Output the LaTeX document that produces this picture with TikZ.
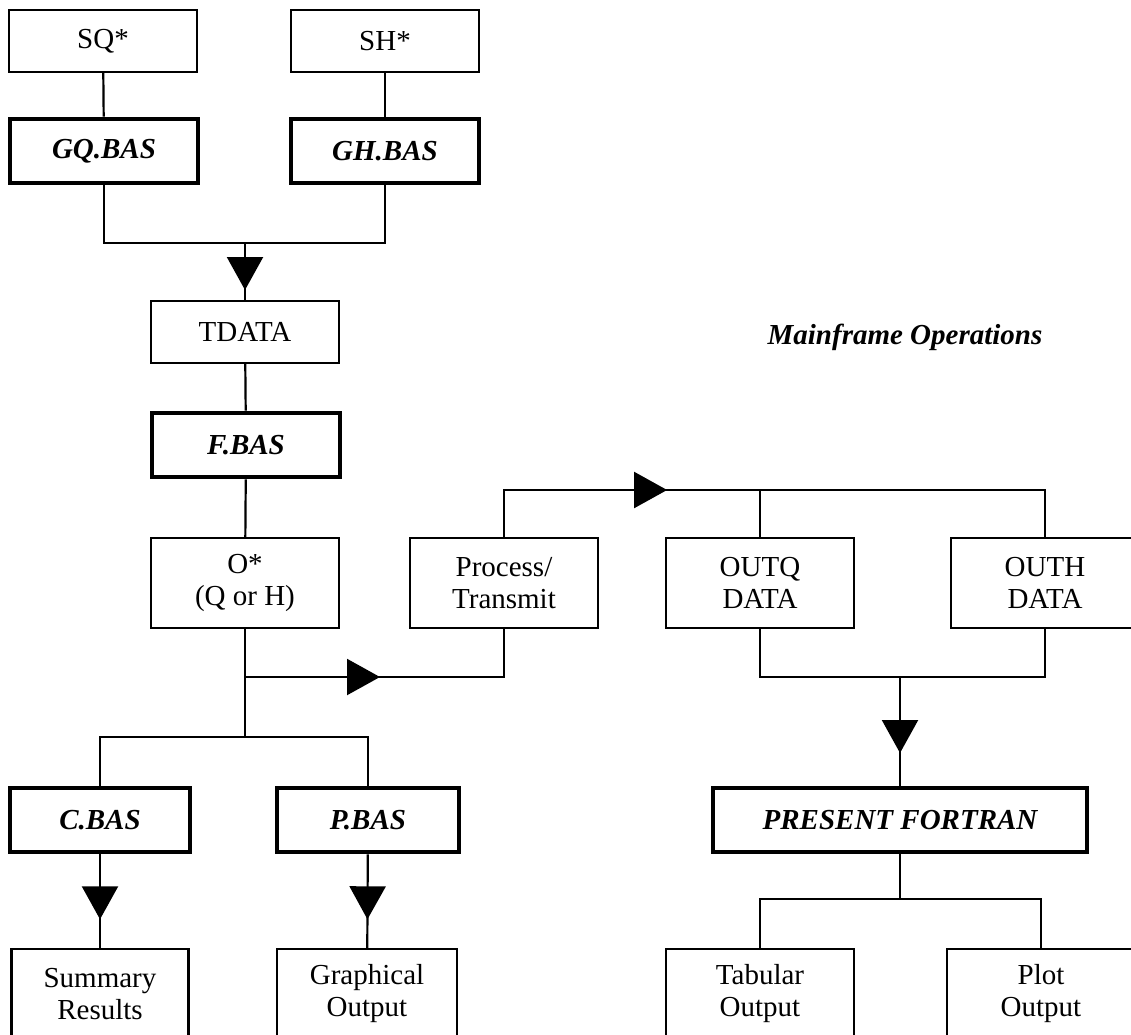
\documentclass[tikz,border=0pt]{standalone}
\usepackage{fontspec}
\setmainfont{Liberation Serif}
\usetikzlibrary{arrows.meta,decorations.markings}

\tikzset{
  databox/.style={draw, line width=2.2pt, minimum width=188pt, minimum height=#1, inner sep=0pt, align=center},
  databox/.default=62pt,
  progbox/.style={draw, line width=4.6pt, minimum width=#1, minimum height=64pt, inner sep=0pt, font=\fontsize{29}{32}\selectfont\bfseries\itshape},
  progbox/.default=188pt,
  flow/.style={line width=2.2pt},
  arrowat/.style={flow, postaction={decorate}, decoration={markings, mark=at position #1 with {\arrow{Triangle[width=36pt,length=33pt]}}}}
}

\begin{document}
\begin{tikzpicture}[x=1pt, y=-1pt, font=\fontsize{29}{32}\selectfont]
\useasboundingbox (0,0) rectangle (1131,1034);
% sources and readers
\node[databox] (sq) at (103,41) {SQ*};
\node[databox] (sh) at (385,41) {SH*};
\node[progbox] (gq) at (104,151) {GQ.BAS};
\node[progbox] (gh) at (385,151) {GH.BAS};
% main column
\node[databox] (tdata) at (245,332) {TDATA};
\node[progbox] (fbas) at (246,445) {F.BAS};
\node[databox=90pt] (ostar) at (245,583) {O*\\(Q or H)};
\node[databox=90pt] (proc) at (504,583) {Process/\\Transmit};
% mainframe side
\node[databox=90pt] (outq) at (760,583) {OUTQ\\DATA};
\node[databox=90pt] (outh) at (1045,583) {OUTH\\DATA};
\node[progbox=374pt] (pres) at (900,820) {PRESENT FORTRAN};
\node[databox=90pt] (tab) at (760,994) {Tabular\\Output};
\node[databox=90pt] (plot) at (1041,994) {Plot\\Output};
% local outputs
\node[progbox=180pt] (cbas) at (100,820) {C.BAS};
\node[progbox=182pt] (pbas) at (368,820) {P.BAS};
\node[databox=90pt, minimum width=177pt] (summ) at (100,994) {Summary\\Results};
\node[databox=90pt, minimum width=180pt] (graph) at (367,994) {Graphical\\Output};
\node[font=\fontsize{29}{32}\selectfont\bfseries\itshape] (mainf) at (905,337) {Mainframe Operations};

% junctions
\coordinate (jtop) at (245,243);
\coordinate (jmid) at (245,677);
\coordinate (jlow) at (245,737);
\coordinate (jright) at (1045,490);
\coordinate (jdata) at (900,677);
\coordinate (jout) at (900,899);

\draw[flow] (sq) -- (gq);
\draw[flow] (sh) -- (gh);
\draw[flow] (gq.south) |- (jtop) -| (gh.south);
\draw[arrowat=47pt] (jtop) -- (tdata.north);
\draw[flow] (tdata) -- (fbas);
\draw[flow] (fbas) -- (ostar);
\draw[flow] (ostar.south) -- (jlow);
\draw[arrowat=135pt] (jmid) -| (proc.south);
\draw[flow] (cbas.north) |- (jlow) -| (pbas.north);
\draw[arrowat=65pt] (cbas) -- (summ);
\draw[arrowat=65pt] (pbas) -- (graph);
\draw[arrowat=210pt] (proc.north) |- (jright) -- (outh.north);
\draw[flow] (outq.north) -- (outq.north |- jright);
\draw[flow] (outq.south) |- (jdata) -| (outh.south);
\draw[arrowat=76pt] (jdata) -- (pres.north);
\draw[flow] (pres.south) -- (jout);
\draw[flow] (tab.north) |- (jout) -| (plot.north);
\end{tikzpicture}
\end{document}
